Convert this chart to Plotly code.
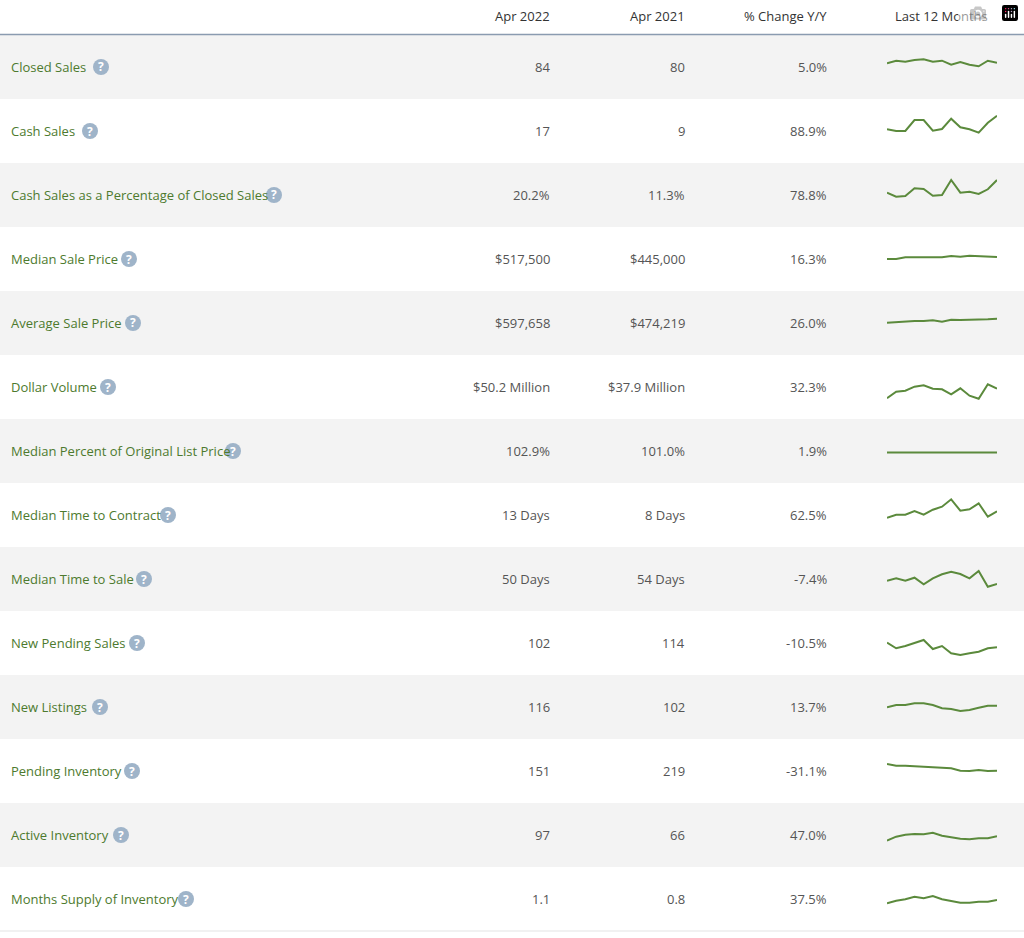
import plotly.graph_objects as go

W, H = 1024, 938

metrics = ["Closed Sales", "Cash Sales", "Cash Sales as a Percentage of Closed Sales",
           "Median Sale Price", "Average Sale Price", "Dollar Volume",
           "Median Percent of Original List Price", "Median Time to Contract",
           "Median Time to Sale", "New Pending Sales", "New Listings",
           "Pending Inventory", "Active Inventory", "Months Supply of Inventory"]
apr_2022 = ["84", "17", "20.2%", "$517,500", "$597,658", "$50.2 Million", "102.9%",
            "13 Days", "50 Days", "102", "116", "151", "97", "1.1"]
apr_2021 = ["80", "9", "11.3%", "$445,000", "$474,219", "$37.9 Million", "101.0%",
            "8 Days", "54 Days", "114", "102", "219", "66", "0.8"]
pct_change = ["5.0%", "88.9%", "78.8%", "16.3%", "26.0%", "32.3%", "1.9%",
              "62.5%", "-7.4%", "-10.5%", "13.7%", "-31.1%", "47.0%", "37.5%"]
# sparkline heights (pixels above row centre), 13 months each
trend = [
    [3.7, 6.3, 5.3, 7, 7.7, 5.3, 6.3, 2.3, 5, 2.3, 0.7, 6.3, 4.3],
    [1.7, 0, 0, 11, 11, 0.3, 2, 12.3, 3.7, 1.7, -1.7, 8.3, 15.3],
    [2.3, -1.7, -1, 6.7, 6, -0.7, 0, 15, 2.3, 3.3, 1, 5.7, 15],
    [0, 0, 1.7, 1.7, 1.7, 1.7, 1.7, 3, 2.3, 3.3, 3, 2.3, 2],
    [0.3, 1, 2, 2, 2, 2.7, 1.3, 3.3, 3, 3, 3, 3.7, 4.3],
    [-11.3, -4.7, -3.7, 0.3, 1.7, -1.7, -2.3, -7.3, -1.3, -8.7, -11.7, 2.7, -1.7],
    [-1.6, -1.6, -1.7, -1.7, -1.7, -1.7, -1.7, -1.7, -1.8, -1.8, -1.8, -1.8, -1.6],
    [-2.7, 0.3, 0.3, 4, 0.3, 5.3, 8.3, 15.7, 4.3, 5.7, 11.7, -1.7, 3.7],
    [-1.7, 0.7, -1.7, 1.3, -5.3, 0.7, 4.7, 7.3, 5, 0.7, 8, -7.7, -5],
    [0.3, -5.3, -3, -0.3, 3, -6, -3, -10.3, -12, -10.3, -8.7, -5.3, -4.3],
    [-0.3, 2, 2, 3.7, 3.7, 2, -1.3, -2, -4, -3, -0.7, 1.3, 1.3],
    [7, 5.3, 5.3, 5, 4.3, 3.7, 3.3, 2.7, 0.3, 0, 1, 0, 0.3],
    [-5.7, -1.7, 0.3, 1, 0.7, 2.3, -0.7, -2.3, -3.7, -4.3, -3.3, -3.3, -1.3],
    [-4.3, -1.7, -0.3, 2.3, 0.7, 3, -0.3, -2, -3.7, -3.7, -2.7, -2.7, -1],
]
icon_x = [101, 90, 274, 129, 133, 108, 233, 168, 144, 137, 100, 132, 121, 186]
headers = ["Apr 2022", "Apr 2021", "% Change Y/Y", "Last 12 Months"]

FONT = "Open Sans"
GREEN = "#4d7a2e"
TEXT = "#555555"
HEAD_H, ROW_H = 35, 64


def px(x):
    return x / W


def py(y):
    return 1 - y / H


def note(x, y, text, anchor, size, color):
    return dict(x=px(x), y=py(y), xref="paper", yref="paper", text=text, showarrow=False,
                xanchor=anchor, yanchor="middle", font=dict(size=size, color=color, family=FONT))


fig = go.Figure()
shapes, annos = [], []

for x, t, anc in zip([552, 687, 829, 941], headers, ["right", "right", "right", "center"]):
    annos.append(note(x, 16, t, anc, 13, "#333333"))
shapes.append(dict(type="line", xref="paper", yref="paper", x0=0, x1=1,
                   y0=py(HEAD_H - 0.5), y1=py(HEAD_H - 0.5),
                   line=dict(color="#8a9bb0", width=1.5)))

for i, name in enumerate(metrics):
    top = HEAD_H + i * ROW_H
    mid = top + ROW_H / 2
    if i % 2 == 0:
        shapes.append(dict(type="rect", xref="paper", yref="paper", x0=0, x1=1,
                           y0=py(top + ROW_H), y1=py(top), fillcolor="#f3f3f3",
                           line=dict(width=0), layer="below"))
    annos.append(note(9, mid, name, "left", 13, GREEN))
    r = 8
    shapes.append(dict(type="circle", xref="paper", yref="paper",
                       x0=px(icon_x[i] - r), x1=px(icon_x[i] + r),
                       y0=py(mid + r), y1=py(mid - r),
                       fillcolor="#9fb4c9", line=dict(width=0)))
    annos.append(note(icon_x[i], mid, "<b>?</b>", "center", 12, "white"))
    for x, t in zip([552, 687, 829], [apr_2022[i], apr_2021[i], pct_change[i]]):
        annos.append(note(x, mid, t, "right", 13, TEXT))

    k = i + 1
    fig.add_trace(go.Scatter(x=list(range(len(trend[i]))), y=trend[i], mode="lines",
                             line=dict(color="#5b8a3c", width=2), hoverinfo="skip",
                             showlegend=False, xaxis=f"x{k}", yaxis=f"y{k}"))
    fig.layout[f"xaxis{k}"] = dict(domain=[px(887), px(997)], range=[0, 12], visible=False,
                                   anchor=f"y{k}", fixedrange=True)
    fig.layout[f"yaxis{k}"] = dict(domain=[py(top + ROW_H), py(top)], range=[-32, 32],
                                   visible=False, anchor=f"x{k}", fixedrange=True)

bottom = HEAD_H + len(metrics) * ROW_H
shapes.append(dict(type="line", xref="paper", yref="paper", x0=0, x1=1,
                   y0=py(bottom), y1=py(bottom), line=dict(color="#e3e3e3", width=1)))

fig.update_layout(width=W, height=H, margin=dict(l=0, r=0, t=0, b=0),
                  paper_bgcolor="white", plot_bgcolor="rgba(0,0,0,0)",
                  shapes=shapes, annotations=annos, showlegend=False)
fig.write_html("out.html", post_script="document.body.style.margin='0';")
